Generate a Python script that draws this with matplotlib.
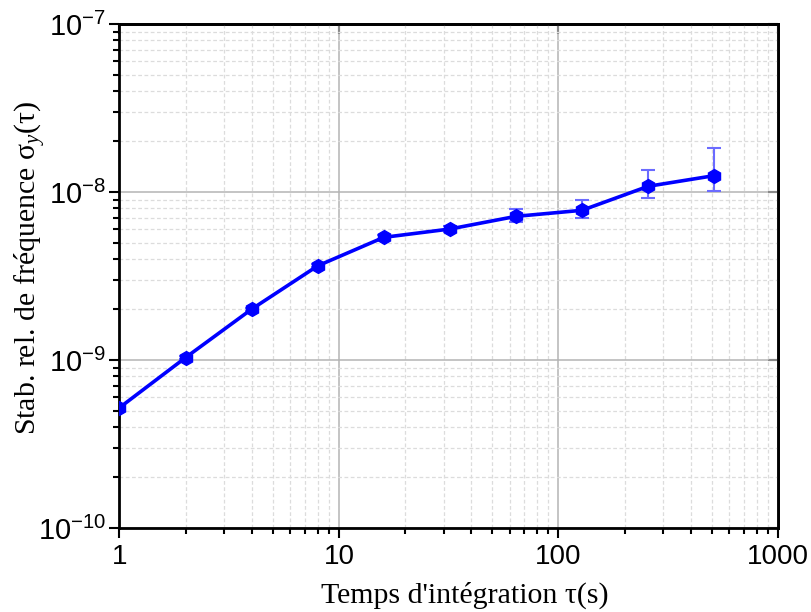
import numpy as np
import matplotlib
matplotlib.use("Agg")
from matplotlib import pyplot as plt
from matplotlib.ticker import LogLocator, NullLocator, NullFormatter

plt.rcParams['font.family'] = ['Liberation Sans', 'DejaVu Sans']
plt.rcParams['mathtext.fontset'] = 'custom'
plt.rcParams['mathtext.rm'] = 'Liberation Serif'
plt.rcParams['mathtext.it'] = 'Liberation Serif:italic'

# Integration time (s) and relative frequency stability
tau = [1, 2, 4, 8, 16, 32, 64, 128, 256, 512]
sigma = [5.20e-10, 1.033e-9, 2.006e-9, 3.634e-9, 5.37e-9,
         6.02e-9, 7.16e-9, 7.78e-9, 1.081e-8, 1.251e-8]
err_low = [0.1e-10, 0.2e-10, 0.4e-10, 0.8e-10, 1.5e-10,
           2.5e-10, 5.4e-10, 7.8e-10, 1.60e-9, 2.37e-9]
err_high = [0.1e-10, 0.2e-10, 0.4e-10, 0.8e-10, 1.5e-10,
            2.5e-10, 7.3e-10, 1.22e-9, 2.71e-9, 5.86e-9]

fig = plt.figure(figsize=(8.11, 6.12), dpi=100)
ax = fig.add_axes([0.1473, 0.1373, 0.812, 0.8235])

ax.errorbar(tau, sigma, yerr=[err_low, err_high], fmt='none',
            ecolor='#6b6bff', elinewidth=1.5, capsize=5, capthick=1.5, zorder=3)
ax.plot(tau, sigma, color='#0000ff', lw=2.6, marker='h', markersize=10,
        markerfacecolor='#0000ff', markeredgecolor='#0000ff', zorder=4)

ax.set_xscale('log')
ax.set_yscale('log')
ax.set_xlim(1, 1000)
ax.set_ylim(1e-10, 1e-7)

ax.xaxis.set_minor_locator(LogLocator(base=10, subs=np.arange(2, 10), numticks=20))
ax.yaxis.set_major_locator(LogLocator(base=10, numticks=10))
ax.yaxis.set_minor_locator(LogLocator(base=10, subs=np.arange(2, 10), numticks=20))
ax.xaxis.set_minor_formatter(NullFormatter())
ax.yaxis.set_minor_formatter(NullFormatter())
ax.set_xticks([1, 10, 100, 1000])
ax.set_xticklabels(['1', '10', '100', '1000'])

ax.grid(True, which='major', color='#b4b4b4', lw=1.1, ls='-', zorder=1)
ax.grid(True, which='minor', color='#dcdcdc', lw=0.9, ls=(0, (3, 2)), zorder=0)
ax.set_axisbelow(True)

for s in ax.spines.values():
    s.set_linewidth(2)

ax.tick_params(which='major', direction='out', length=7.5, width=1.5,
               labelsize=20, pad=4)
ax.tick_params(axis='y', which='major', pad=2, labelsize=21)
ax.tick_params(which='minor', direction='out', length=4.5, width=1.5)

# top and right: major ticks only, pointing inward
top = ax.secondary_xaxis('top')
top.set_xticks([1, 10, 100, 1000])
top.xaxis.set_minor_locator(NullLocator())
top.tick_params(direction='in', length=7.5, width=1.5, labeltop=False)
right = ax.secondary_yaxis('right')
right.set_yticks([1e-10, 1e-9, 1e-8, 1e-7])
right.yaxis.set_minor_locator(NullLocator())
right.tick_params(direction='in', length=7.5, width=1.5, labelright=False)
for sec in (top, right):
    for s in sec.spines.values():
        s.set_linewidth(2)

ax.set_xlabel("Temps d'intégration τ(s)", family='Liberation Serif',
              fontsize=21.5, va='top')
ax.xaxis.set_label_coords(0.5247, -0.107)
ax.set_ylabel("Stab. rel. de fréquence σ$_{y}$(τ)", family='Liberation Serif',
              fontsize=21.5)
ax.yaxis.set_label_coords(-0.109, 0.517)

fig.savefig('out.png', dpi=100)
